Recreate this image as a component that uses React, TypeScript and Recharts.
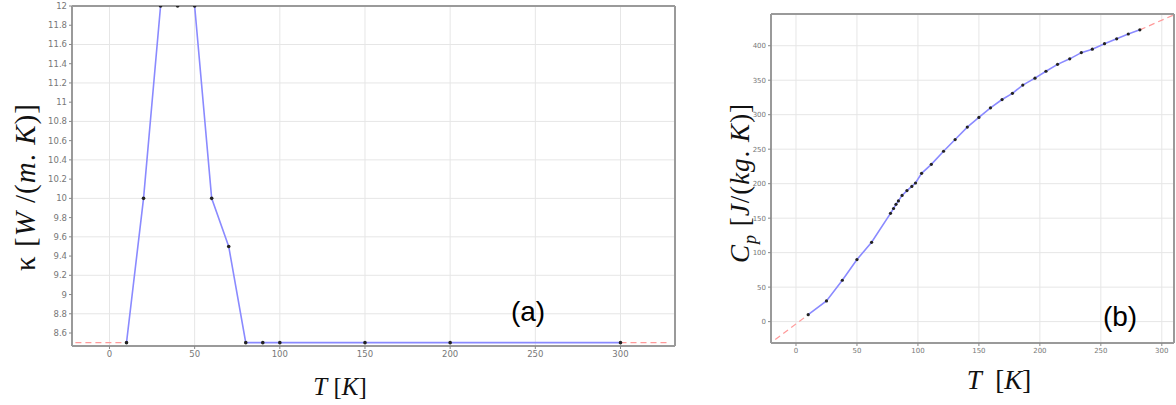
import React from 'react';
import { LineChart, Line, XAxis, YAxis, CartesianGrid } from 'recharts';

// (a) thermal conductivity vs temperature
const kT = [10, 20, 30, 40, 50, 60, 70, 80, 90, 100, 150, 200, 300];
const kValues = [8.5, 10, 12, 12, 12, 10, 9.5, 8.5, 8.5, 8.5, 8.5, 8.5, 8.5];
const kExtrapLowT = [-20, 10];
const kExtrapLow = [8.5, 8.5];
const kExtrapHighT = [300, 329];
const kExtrapHigh = [8.5, 8.5];
const kXTicks = [0, 50, 100, 150, 200, 250, 300];
const kYTicks = [8.6, 8.8, 9, 9.2, 9.4, 9.6, 9.8, 10, 10.2, 10.4, 10.6, 10.8, 11, 11.2, 11.4, 11.6, 11.8, 12];

// (b) specific heat vs temperature
const cpT = [10, 25, 38, 50, 62, 77.5, 80, 82, 84, 87, 91, 95, 98, 103, 111, 121, 130.5, 140.5, 150, 159.5, 169, 177.5, 186, 196, 205, 214.5, 224.5, 234, 243, 253, 263, 272.5, 282];
const cpValues = [10, 30, 60, 90, 115, 157, 164, 170, 175, 183, 190, 196, 201, 215, 228, 247, 264, 282, 296, 310, 322, 331, 343, 353, 363, 373, 381, 390, 395, 403, 410, 417, 423];
const cpExtrapLowT = [-17, 10];
const cpExtrapLow = [-26, 10];
const cpExtrapHighT = [282, 309];
const cpExtrapHigh = [423, 444];
const cpXTicks = [0, 50, 100, 150, 200, 250, 300];
const cpYTicks = [0, 50, 100, 150, 200, 250, 300, 350, 400];

const zip = (xs: number[], ys: number[]) => xs.map((T, i) => ({ T, v: ys[i] }));

const frame = '#9a9a9a';
const blue = '#8a8aff';
const red = '#ff9a9a';

const fmt = (v: number) => String(Number(v.toFixed(1)));

const labelBase: React.CSSProperties = {
    position: 'absolute',
    whiteSpace: 'nowrap',
    fontFamily: '"Liberation Serif", "DejaVu Serif", serif',
    color: '#111',
};
const it: React.CSSProperties = { fontStyle: 'italic' };

const Panel = ({ width, margin, xDomain, yDomain, xTicks, yTicks, yWidth, main, low, high, dotR, tickFont }: any) => {
    const tickStyle = { fontSize: tickFont, fill: '#777', fontFamily: 'DejaVu Sans' };
    return (
        <LineChart width={width} height={405} margin={margin}>
            <CartesianGrid stroke="#e6e6e6" strokeWidth={1} />
            <XAxis
                dataKey="T"
                type="number"
                domain={xDomain}
                ticks={xTicks}
                allowDataOverflow
                height={20}
                tickSize={3}
                tickLine={{ stroke: '#888' }}
                axisLine={{ stroke: frame, strokeWidth: 2 }}
                tick={tickStyle}
                tickFormatter={fmt}
            />
            <XAxis
                xAxisId="top"
                orientation="top"
                type="number"
                domain={xDomain}
                ticks={xTicks}
                allowDataOverflow
                height={4}
                tickSize={3}
                tickLine={{ stroke: '#888' }}
                tick={false}
                axisLine={{ stroke: frame, strokeWidth: 2 }}
            />
            <YAxis
                type="number"
                domain={yDomain}
                ticks={yTicks}
                allowDataOverflow
                width={yWidth}
                tickSize={3}
                tickLine={{ stroke: '#888' }}
                axisLine={{ stroke: frame, strokeWidth: 2 }}
                tick={tickStyle}
                tickFormatter={fmt}
            />
            <YAxis
                yAxisId="right"
                orientation="right"
                type="number"
                domain={yDomain}
                ticks={yTicks}
                allowDataOverflow
                width={4}
                tickSize={3}
                tickLine={{ stroke: '#888' }}
                tick={false}
                axisLine={{ stroke: frame, strokeWidth: 2 }}
            />
            <Line data={low} dataKey="v" stroke={red} strokeWidth={1.2} strokeDasharray="6 4" dot={false} isAnimationActive={false} />
            <Line data={high} dataKey="v" stroke={red} strokeWidth={1.2} strokeDasharray="6 4" dot={false} isAnimationActive={false} />
            <Line
                data={main}
                dataKey="v"
                stroke={blue}
                strokeWidth={1.6}
                dot={{ r: dotR, fill: '#222', stroke: 'none' }}
                isAnimationActive={false}
            />
        </LineChart>
    );
};

const App = () => {
    return (
        <div style={{ position: 'absolute', left: 0, top: 0, width: 1176, height: 405, background: '#fff', overflow: 'hidden' }}>
            <div style={{ position: 'absolute', left: 0, top: 0 }}>
                <Panel
                    width={700}
                    margin={{ top: 2, right: 21, bottom: 39, left: 0 }}
                    xDomain={[-22, 332]}
                    yDomain={[8.465, 12]}
                    xTicks={kXTicks}
                    yTicks={kYTicks}
                    yWidth={72}
                    main={zip(kT, kValues)}
                    low={zip(kExtrapLowT, kExtrapLow)}
                    high={zip(kExtrapHighT, kExtrapHigh)}
                    dotR={1.8}
                    tickFont={8.5}
                />
            </div>
            <div style={{ position: 'absolute', left: 720, top: 0 }}>
                <Panel
                    width={458}
                    margin={{ top: 10, right: 0, bottom: 42, left: 0 }}
                    xDomain={[-20.5, 310]}
                    yDomain={[-31, 446]}
                    xTicks={cpXTicks}
                    yTicks={cpYTicks}
                    yWidth={51}
                    main={zip(cpT, cpValues)}
                    low={zip(cpExtrapLowT, cpExtrapLow)}
                    high={zip(cpExtrapHighT, cpExtrapHigh)}
                    dotR={1.6}
                    tickFont={7}
                />
            </div>

            <div style={{ ...labelBase, left: 25, top: 187, fontSize: 29, letterSpacing: 1, transform: 'translate(-50%, -50%) rotate(-90deg)' }}>
                κ [<span style={it}>W</span> /(<span style={it}>m</span>. <span style={it}>K</span>)]
            </div>
            <div style={{ ...labelBase, left: 340, top: 387, fontSize: 25, transform: 'translate(-50%, -50%)' }}>
                <span style={it}>T</span> [<span style={it}>K</span>]
            </div>
            <div style={{ ...labelBase, left: 743, top: 183, fontSize: 27, letterSpacing: 1, transform: 'translate(-50%, -50%) rotate(-90deg)' }}>
                <span style={it}>C</span><sub style={{ ...it, fontSize: 18 }}>p</sub> [<span style={it}>J</span>/(<span style={it}>kg</span>. <span style={it}>K</span>)]
            </div>
            <div style={{ ...labelBase, left: 999, top: 380, fontSize: 27, transform: 'translate(-50%, -50%)' }}>
                <span style={it}>T</span>&nbsp;&nbsp;[<span style={it}>K</span>]
            </div>

            <div style={{ position: 'absolute', left: 528, top: 312, fontSize: 28, fontFamily: '"Liberation Sans", Arial, sans-serif', transform: 'translate(-50%, -50%)' }}>
                (a)
            </div>
            <div style={{ position: 'absolute', left: 1120, top: 317, fontSize: 28, fontFamily: '"Liberation Sans", Arial, sans-serif', transform: 'translate(-50%, -50%)' }}>
                (b)
            </div>
        </div>
    );
};

export default App;
